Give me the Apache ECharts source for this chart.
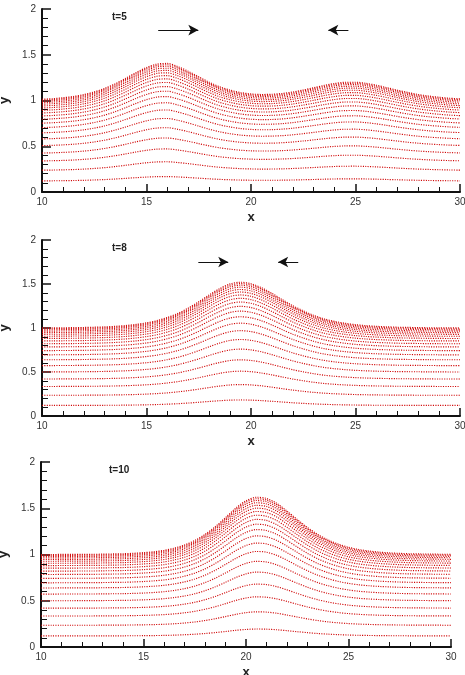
<!DOCTYPE html>
<html><head><meta charset="utf-8">
<script src="https://cdn.jsdelivr.net/npm/echarts@6/dist/echarts.min.js"></script>
<style>html,body{margin:0;padding:0;background:#fff}#c{width:465px;height:675px}</style>
</head><body><div id="c"></div><script>
// x positions where the free-surface profile was read
const xs = [10,10.5,11,11.5,12,12.5,13,13.5,14,14.5,15,15.5,16,16.5,17,17.5,18,18.5,19,19.5,20,20.5,21,21.5,22,22.5,23,23.5,24,24.5,25,25.5,26,26.5,27,27.5,28,28.5,29,29.5,30];
// free-surface elevation (top curve) for each time
const surfaceT5 = [1.014,1.020,1.030,1.044,1.065,1.094,1.133,1.183,1.242,1.305,1.360,1.398,1.405,1.370,1.319,1.259,1.200,1.150,1.114,1.087,1.072,1.066,1.068,1.077,1.093,1.115,1.139,1.165,1.186,1.199,1.200,1.188,1.167,1.141,1.113,1.088,1.066,1.049,1.036,1.025,1.018];
const surfaceT8 = [1.001,1.002,1.003,1.004,1.006,1.009,1.013,1.019,1.028,1.041,1.059,1.084,1.120,1.166,1.227,1.298,1.376,1.448,1.501,1.520,1.503,1.458,1.394,1.322,1.253,1.195,1.144,1.104,1.075,1.054,1.038,1.027,1.019,1.014,1.009,1.007,1.005,1.003,1.002,1.001,1.001];
const surfaceT10 = [1.000,1.000,1.001,1.001,1.002,1.002,1.004,1.006,1.008,1.013,1.020,1.030,1.045,1.069,1.103,1.151,1.217,1.301,1.399,1.501,1.581,1.619,1.606,1.553,1.470,1.379,1.292,1.217,1.158,1.112,1.078,1.054,1.038,1.026,1.018,1.012,1.008,1.006,1.004,1.003,1.002];
// relative depth fraction of each grid line (sigma levels)
const levels = [0.12,0.235,0.335,0.42,0.50,0.572,0.638,0.694,0.742,0.784,0.820,0.852,0.880,0.905,0.927,0.946,0.963,0.978,0.990,1.0];
const panelLabels = ['t=5','t=8','t=10'];
// arrows: [from, to] in data coordinates
const arrowsT5 = [[[15.56,1.77],[17.48,1.77]],[[24.66,1.77],[23.70,1.77]]];
const arrowsT8 = [[[17.48,1.75],[18.91,1.75]],[[22.26,1.75],[21.30,1.75]]];
const arrowsT10 = [];

const surfaces = [surfaceT5, surfaceT8, surfaceT10];
const arrows = [arrowsT5, arrowsT8, arrowsT10];
const grids = [
  {left:42, top:9, width:418, height:183, outerBoundsMode:'none'},
  {left:42, top:240, width:418, height:176, outerBoundsMode:'none'},
  {left:41, top:462, width:410, height:185, outerBoundsMode:'none'}
];
const labelPos = [[112, 12],[112, 243],[109, 465]];
const FONT = 'Liberation Sans, Arial, sans-serif';

const xAxis = [], yAxis = [], series = [], graphic = [];
grids.forEach((g, i) => {
  xAxis.push({
    type:'value', gridIndex:i, min:10, max:30, interval:5,
    name:'x', nameLocation:'middle', nameGap:19,
    nameTextStyle:{fontFamily:FONT, fontSize:13, fontWeight:'bold', color:'#222'},
    axisLine:{show:true, lineStyle:{color:'#111', width:2}},
    axisTick:{show:true, inside:true, length:8, lineStyle:{color:'#111', width:1.5}},
    minorTick:{show:true, splitNumber:5, length:5, lineStyle:{color:'#111', width:1}},
    splitLine:{show:false},
    axisLabel:{fontFamily:FONT, fontSize:10, color:'#333', margin:5}
  });
  yAxis.push({
    type:'value', gridIndex:i, min:0, max:2, interval:0.5,
    name:'y', nameLocation:'middle', nameGap:28, nameRotate:90,
    nameTextStyle:{fontFamily:FONT, fontSize:13, fontWeight:'bold', color:'#222'},
    axisLine:{show:true, lineStyle:{color:'#111', width:2}},
    axisTick:{show:true, inside:true, length:9, lineStyle:{color:'#111', width:1.5}},
    minorTick:{show:true, splitNumber:5, length:6, lineStyle:{color:'#111', width:1}},
    splitLine:{show:false},
    axisLabel:{fontFamily:FONT, fontSize:10, color:'#333', margin:6}
  });
  levels.forEach((lv, j) => {
    const s = {
      type:'line', xAxisIndex:i, yAxisIndex:i, showSymbol:false, smooth:0.3,
      lineStyle:{color:'#d00808', width:1.15, type:[1.1,1.3]},
      data: xs.map((x, k) => [x, lv * surfaces[i][k]])
    };
    if (j === levels.length - 1 && arrows[i].length) {
      s.markLine = {
        silent:true, symbol:['none','arrow'], symbolSize:[8,10],
        label:{show:false},
        lineStyle:{color:'#111', width:1, type:'solid'},
        data: arrows[i].map(a => [{coord:a[0]}, {coord:a[1]}])
      };
    }
    series.push(s);
  });
  graphic.push({type:'text', silent:true, z:50, x:labelPos[i][0], y:labelPos[i][1],
    style:{text:panelLabels[i], font:'bold 10px ' + FONT, fill:'#222'}});
});

const chart = echarts.init(document.getElementById('c'));
chart.setOption({ grid: grids, xAxis, yAxis, series, graphic });
</script></body></html>
